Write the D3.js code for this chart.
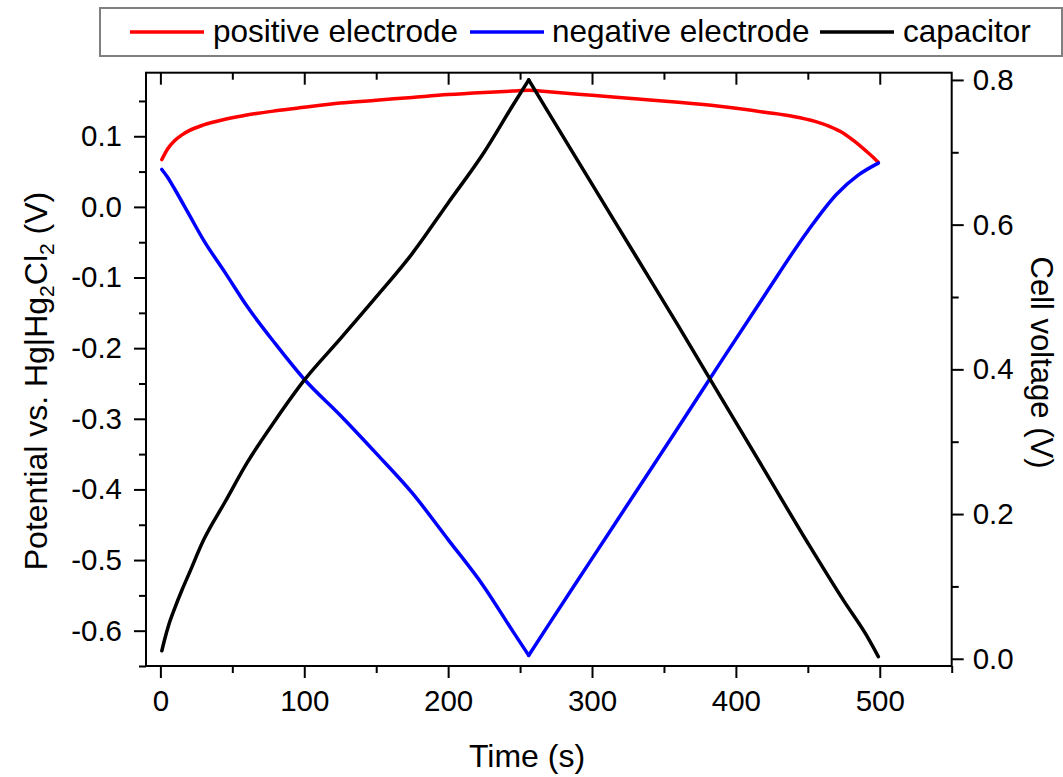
<!DOCTYPE html>
<html><head><meta charset="utf-8">
<script src="https://cdn.jsdelivr.net/npm/d3@7"></script>
<style>
body{margin:0;background:#fff}
svg{display:block}
text{font-family:"Liberation Sans",Arial,sans-serif;fill:#000}
</style>
</head><body>
<svg id="chart" width="1063" height="777"></svg>
<script>
// ---- data ----
const posTime = [1, 5, 10, 15, 20, 30, 45, 60, 80, 100, 125, 150, 175, 200, 225, 245, 256, 270, 300, 330, 360, 390, 420, 440, 455, 465, 475, 483, 490, 495, 499];
const posV    = [0.067, 0.082, 0.094, 0.102, 0.108, 0.116, 0.124, 0.130, 0.136, 0.141, 0.147, 0.151, 0.155, 0.159, 0.162, 0.164, 0.165, 0.163, 0.158, 0.153, 0.148, 0.142, 0.134, 0.128, 0.121, 0.114, 0.104, 0.092, 0.080, 0.071, 0.063];

const negTime = [1, 5, 10, 20, 30, 45, 60, 80, 100, 125, 150, 175, 200, 225, 245, 256, 270, 300, 330, 360, 390, 420, 450, 470, 485, 499];
const negV    = [0.053, 0.042, 0.025, -0.011, -0.047, -0.093, -0.140, -0.194, -0.244, -0.295, -0.349, -0.405, -0.471, -0.538, -0.601, -0.635, -0.591, -0.498, -0.405, -0.312, -0.218, -0.125, -0.034, 0.018, 0.045, 0.062];

const capTime = [1, 3, 6, 10, 15, 20, 30, 45, 60, 80, 100, 125, 150, 175, 200, 225, 245, 256, 270, 300, 330, 360, 390, 420, 450, 475, 490, 499];
const capV    = [0.011, 0.027, 0.048, 0.070, 0.095, 0.118, 0.164, 0.217, 0.270, 0.330, 0.385, 0.442, 0.500, 0.560, 0.630, 0.700, 0.765, 0.800, 0.754, 0.656, 0.558, 0.460, 0.360, 0.260, 0.160, 0.080, 0.035, 0.003];

const xTicks = [0, 100, 200, 300, 400, 500];
const xMinor = [50, 150, 250, 350, 450, 550];
const leftTicks = [-0.6, -0.5, -0.4, -0.3, -0.2, -0.1, 0.0, 0.1];
const leftMinor = [-0.65, -0.55, -0.45, -0.35, -0.25, -0.15, -0.05, 0.05, 0.15];
const rightTicks = [0.0, 0.2, 0.4, 0.6, 0.8];
const rightMinor = [0.1, 0.3, 0.5, 0.7];

const legendLabels = ["positive electrode", "negative electrode", "capacitor"];
const seriesColors = ["#ff0000", "#0000ff", "#000000"];

// ---- layout ----
const svg = d3.select("#chart");
const L = 146, R = 951.7, T = 72.7, B = 666;
const x = d3.scaleLinear().domain([-10, 550]).range([L, R]);
const yL = d3.scaleLinear().domain([-0.65, 0.19]).range([B, T]);
const yR = d3.scaleLinear().domain([-0.01, 0.81]).range([B, T]);
const fmt = v => v.toFixed(1);
const tickFont = "29.5px";

function styleAxis(g){
  g.select(".domain").remove();
  g.selectAll(".tick line").attr("stroke", "#000").attr("stroke-width", 2);
  g.selectAll(".tick text").style("font-size", tickFont).attr("fill", "#000")
    .style("font-family", '"Liberation Sans",Arial,sans-serif');
}

svg.append("g").attr("transform", `translate(0,${B})`)
  .call(d3.axisBottom(x).tickValues(xTicks).tickSize(12).tickPadding(12).tickFormat(d3.format("d"))).call(styleAxis);
svg.append("g").attr("transform", `translate(0,${B})`)
  .call(d3.axisBottom(x).tickValues(xMinor).tickSize(7).tickFormat("")).call(styleAxis);
svg.append("g").attr("transform", `translate(0,${T})`)
  .call(d3.axisTop(x).tickValues(xTicks).tickSize(-12).tickFormat("")).call(styleAxis);
svg.append("g").attr("transform", `translate(0,${T})`)
  .call(d3.axisTop(x).tickValues(xMinor.filter(v => v < 550)).tickSize(-7).tickFormat("")).call(styleAxis);
svg.append("g").attr("transform", `translate(${L},0)`)
  .call(d3.axisLeft(yL).tickValues(leftTicks).tickSize(12).tickPadding(12).tickFormat(fmt)).call(styleAxis);
svg.append("g").attr("transform", `translate(${L},0)`)
  .call(d3.axisLeft(yL).tickValues(leftMinor).tickSize(7).tickFormat("")).call(styleAxis);
svg.append("g").attr("transform", `translate(${R},0)`)
  .call(d3.axisRight(yR).tickValues(rightTicks).tickSize(12).tickPadding(9).tickFormat(fmt)).call(styleAxis);
svg.append("g").attr("transform", `translate(${R},0)`)
  .call(d3.axisRight(yR).tickValues(rightMinor).tickSize(7).tickFormat("")).call(styleAxis);

svg.append("rect").attr("x", L).attr("y", T).attr("width", R - L).attr("height", B - T)
  .attr("fill", "none").attr("stroke", "#000").attr("stroke-width", 2);

// curves: smooth each branch (charge / discharge) separately, keeping the turning cusp sharp
const series = [
  {t: posTime, v: posV, y: yL, c: seriesColors[0], split: -1},
  {t: negTime, v: negV, y: yL, c: seriesColors[1], split: d3.minIndex(negV)},
  {t: capTime, v: capV, y: yR, c: seriesColors[2], split: d3.maxIndex(capV)}
];
series.forEach(s => {
  const pts = s.t.map((t, i) => [t, s.v[i]]);
  const parts = s.split < 0 ? [pts] : [pts.slice(0, s.split + 1), pts.slice(s.split)];
  const line = d3.line().x(d => x(d[0])).y(d => s.y(d[1])).curve(d3.curveMonotoneX);
  const g = svg.append("g");
  parts.forEach(p => g.append("path").datum(p).attr("d", line)
    .attr("fill", "none").attr("stroke", s.c).attr("stroke-width", 3.5)
    .attr("stroke-linejoin", "round").attr("stroke-linecap", "round"));
});

svg.append("text").attr("x", 527).attr("y", 767).attr("text-anchor", "middle")
  .style("font-size", "32px").text("Time (s)");

const lt = svg.append("text").attr("transform", "translate(47,381) rotate(-90)")
  .attr("text-anchor", "middle").style("font-size", "32px");
lt.append("tspan").text("Potential vs. Hg|Hg");
lt.append("tspan").attr("dy", 7).style("font-size", "21px").text("2");
lt.append("tspan").attr("dy", -7).text("Cl");
lt.append("tspan").attr("dy", 7).style("font-size", "21px").text("2");
lt.append("tspan").attr("dy", -7).text(" (V)");

svg.append("text").attr("transform", "translate(1031,362.5) rotate(90)")
  .attr("text-anchor", "middle").style("font-size", "31px").text("Cell voltage (V)");

svg.append("rect").attr("x", 100).attr("y", 8).attr("width", 962).attr("height", 48)
  .attr("fill", "#fff").attr("stroke", "#808080").attr("stroke-width", 2);
const lineX = [130, 470, 820], textX = [213, 552, 903];
legendLabels.forEach((lab, i) => {
  svg.append("line").attr("x1", lineX[i]).attr("x2", lineX[i] + 74).attr("y1", 32).attr("y2", 32)
    .attr("stroke", seriesColors[i]).attr("stroke-width", 3.5);
  svg.append("text").attr("x", textX[i]).attr("y", 42).style("font-size", "31.5px").text(lab);
});
</script>
</body></html>
